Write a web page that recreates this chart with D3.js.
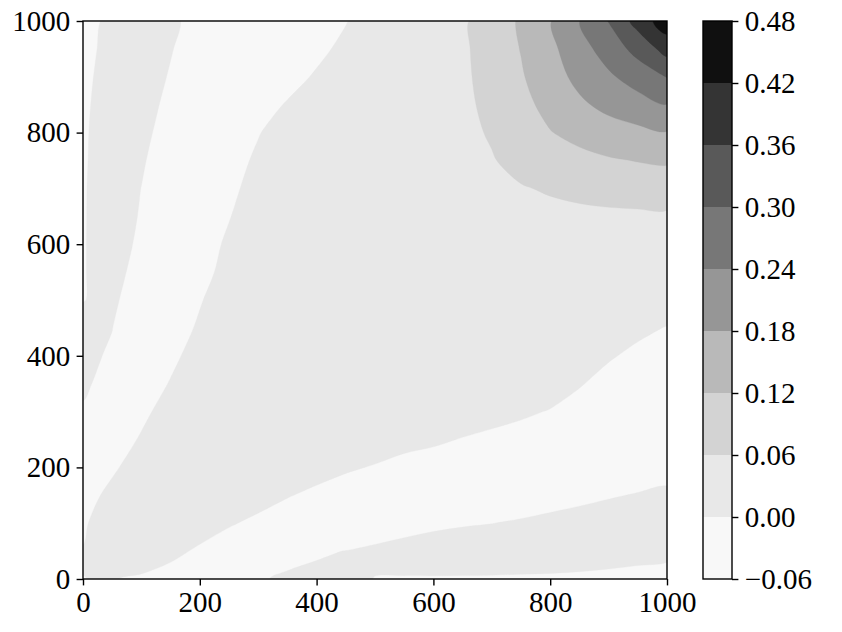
<!DOCTYPE html>
<html>
<head>
<meta charset="utf-8">
<script src="https://cdn.jsdelivr.net/npm/d3@7"></script>
<style>
  body { margin: 0; background: #fff; }
  svg text { font-family: "Liberation Serif", "Times New Roman", serif; font-size: 29px; fill: #000; }
</style>
</head>
<body>
<svg id="chart" width="842" height="632"></svg>
<script>
// Sample positions of the field (same spacing on both axes)
const xValues = [0, 50, 100, 150, 200, 250, 300, 350, 400, 450, 500, 550, 600, 650, 700, 750, 800, 850, 900, 950, 1000];
const yValues = [0, 50, 100, 150, 200, 250, 300, 350, 400, 450, 500, 550, 600, 650, 700, 750, 800, 850, 900, 950, 1000];

// Contour levels (also the colorbar ticks)
const levels = [-0.06, 0.0, 0.06, 0.12, 0.18, 0.24, 0.30, 0.36, 0.42, 0.48];

// Axis ticks
const xTicks = [0, 200, 400, 600, 800, 1000];
const yTicks = [0, 200, 400, 600, 800, 1000];

// Field values, one row per y value (y = 0 first)
const zValues = [
  [-0.0001, 0.0005, -0.0018, -0.0058, -0.0117, -0.0154, -0.0013, 0.002, 0.0029, 0.003, -0.0003, -0.0007, -0.00105, -0.0014, -0.0015, -0.0019, -0.0022, -0.0029, -0.0039, -0.0053, -0.0066],
  [0.0005, 0.0099, 0.0081, 0.0039, -0.0023, -0.008, -0.0106, -0.0047, -0.0015, 0.0002, 0.00255, 0.0051, 0.0077, 0.0095, 0.0095, 0.0091, 0.0088, 0.0081, 0.007, 0.0057, 0.0044],
  [-0.0018, 0.0081, 0.016, 0.0136, 0.0072, 0.0015, -0.0035, -0.0088, -0.0136, -0.011, -0.0081, -0.0055, -0.0033, -0.0015, -0.0002, 0.0018, 0.0042, 0.0066, 0.0093, 0.0119, 0.0143],
  [-0.0058, 0.0039, 0.0136, 0.018, 0.015, 0.011, 0.0062, 0.001, -0.0036, -0.008, -0.0116, -0.0156, -0.0143, -0.0125, -0.011, -0.0092, -0.0068, -0.0042, -0.0015, 0.0011, 0.0037],
  [-0.0117, -0.0023, 0.0072, 0.015, 0.020, 0.019, 0.0159, 0.0108, 0.0064, 0.0022, -0.0012, -0.0052, -0.0078, -0.0113, -0.0144, -0.0174, -0.0178, -0.0152, -0.0125, -0.0099, -0.0073],
  [-0.0154, -0.008, 0.0015, 0.011, 0.019, 0.024, 0.024, 0.0205, 0.0164, 0.0125, 0.009, 0.0052, 0.0028, -0.0008, -0.004, -0.0072, -0.0105, -0.0156, -0.0233, -0.0209, -0.018],
  [-0.0013, -0.0106, -0.0035, 0.0062, 0.0159, 0.024, 0.028, 0.027, 0.025, 0.0227, 0.0195, 0.0157, 0.0133, 0.0096, 0.0065, 0.0031, -0.001, -0.0071, -0.015, -0.022, -0.029],
  [0.002, -0.0047, -0.0088, 0.001, 0.0108, 0.0205, 0.027, 0.030, 0.031, 0.030, 0.028, 0.025, 0.0238, 0.020, 0.017, 0.0133, 0.0086, 0.0014, -0.0064, -0.0132, -0.020],
  [0.0029, -0.0015, -0.0136, -0.0036, 0.0064, 0.0164, 0.025, 0.031, 0.033, 0.034, 0.033, 0.032, 0.031, 0.028, 0.026, 0.0235, 0.018, 0.0098, 0.002, -0.0044, -0.0104],
  [0.003, 0.0002, -0.011, -0.008, 0.0022, 0.0125, 0.0227, 0.030, 0.034, 0.035, 0.035, 0.035, 0.035, 0.033, 0.032, 0.030, 0.025, 0.018, 0.0105, 0.0044, -0.0009],
  [-0.0003, 0.00255, -0.0081, -0.0116, -0.0012, 0.009, 0.0195, 0.028, 0.033, 0.035, 0.036, 0.037, 0.037, 0.036, 0.036, 0.034, 0.030, 0.025, 0.019, 0.0132, 0.009],
  [-0.0007, 0.0051, -0.0055, -0.0156, -0.0052, 0.0052, 0.0157, 0.025, 0.032, 0.035, 0.037, 0.039, 0.039, 0.038, 0.039, 0.037, 0.034, 0.030, 0.027, 0.022, 0.019],
  [-0.00105, 0.0077, -0.0033, -0.0143, -0.0078, 0.0028, 0.0133, 0.0238, 0.031, 0.035, 0.037, 0.039, 0.041, 0.040, 0.041, 0.040, 0.039, 0.036, 0.035, 0.031, 0.031],
  [-0.0014, 0.0095, -0.0015, -0.0125, -0.0113, -0.0008, 0.0096, 0.020, 0.028, 0.033, 0.036, 0.038, 0.040, 0.043, 0.044, 0.045, 0.047, 0.0475, 0.050, 0.051, 0.052],
  [-0.0015, 0.0095, -0.0002, -0.011, -0.0144, -0.004, 0.0065, 0.017, 0.026, 0.032, 0.036, 0.039, 0.041, 0.044, 0.050, 0.0567, 0.065, 0.0747, 0.081, 0.0857, 0.0885],
  [-0.0019, 0.0091, 0.0018, -0.0092, -0.0174, -0.0072, 0.0031, 0.0133, 0.0235, 0.030, 0.034, 0.037, 0.040, 0.045, 0.0567, 0.0764, 0.091, 0.105, 0.1146, 0.122, 0.127],
  [-0.0022, 0.0088, 0.0042, -0.0068, -0.0178, -0.0105, -0.001, 0.0086, 0.018, 0.025, 0.030, 0.034, 0.039, 0.047, 0.065, 0.091, 0.118, 0.136, 0.155, 0.166, 0.177],
  [-0.0029, 0.0081, 0.0066, -0.0042, -0.0152, -0.0156, -0.0071, 0.0014, 0.0098, 0.018, 0.025, 0.030, 0.036, 0.0475, 0.0747, 0.105, 0.136, 0.170, 0.196, 0.217, 0.239],
  [-0.0039, 0.007, 0.0093, -0.0015, -0.0125, -0.0233, -0.015, -0.0064, 0.002, 0.0105, 0.019, 0.027, 0.035, 0.050, 0.081, 0.1146, 0.155, 0.196, 0.231, 0.266, 0.302],
  [-0.0053, 0.0057, 0.0119, 0.0011, -0.0099, -0.0209, -0.022, -0.0132, -0.0044, 0.0044, 0.0132, 0.022, 0.031, 0.051, 0.0857, 0.122, 0.166, 0.217, 0.266, 0.320, 0.382],
  [-0.0066, 0.0044, 0.0143, 0.0037, -0.0073, -0.018, -0.029, -0.020, -0.0104, -0.0009, 0.009, 0.019, 0.031, 0.052, 0.0885, 0.127, 0.177, 0.239, 0.302, 0.382, 0.455]
];

// matplotlib "Greys" colormap stops
const GREYS = ["#ffffff", "#f0f0f0", "#d9d9d9", "#bdbdbd", "#969696", "#737373", "#525252", "#252525", "#000000"];

// Layout (pixels)
const PLOT = { left: 83, right: 667, top: 21, bottom: 579 };
const CBAR = { left: 703, right: 732 };
const TICK = 6.4;
const PAD = 6.4;
const LINE_W = 1.4;

const svg = d3.select("#chart");

const x = d3.scaleLinear().domain([xValues[0], xValues[xValues.length - 1]]).range([PLOT.left, PLOT.right]);
const y = d3.scaleLinear().domain([yValues[0], yValues[yValues.length - 1]]).range([PLOT.bottom, PLOT.top]);

// Colour of each filled band, taken at the band middle like contourf does
const greys = d3.scaleLinear().domain(d3.range(GREYS.length).map((i) => i / (GREYS.length - 1))).range(GREYS);
const norm = d3.scaleLinear().domain([levels[0], levels[levels.length - 1]]).range([0, 1]);
const bandColor = (k) => greys(norm((levels[k] + levels[k + 1]) / 2));

// Filled contours
const nx = xValues.length;
const ny = yValues.length;
// d3.contours puts sample i at grid coordinate i + 0.5
const gridX = d3.scaleLinear().domain([0.5, nx - 0.5]).range([xValues[0], xValues[nx - 1]]);
const gridY = d3.scaleLinear().domain([0.5, ny - 0.5]).range([yValues[0], yValues[ny - 1]]);

const contours = d3.contours()
  .size([nx, ny])
  .thresholds(levels.slice(0, -1))(zValues.flat());

// Smooth the marching-squares rings a bit so the bands look like the original
const ringLine = d3.line().curve(d3.curveCatmullRomClosed.alpha(0.5));
const contourPath = (mp) =>
  mp.coordinates
    .map((polygon) =>
      polygon
        .map((ring) => ringLine(ring.slice(0, -1).map(([gx, gy]) => [x(gridX(gx)), y(gridY(gy))])))
        .join("")
    )
    .join("");

svg.append("clipPath")
  .attr("id", "plot-clip")
  .append("rect")
  .attr("x", PLOT.left)
  .attr("y", PLOT.top)
  .attr("width", PLOT.right - PLOT.left)
  .attr("height", PLOT.bottom - PLOT.top);

svg.append("g")
  .attr("clip-path", "url(#plot-clip)")
  .selectAll("path")
  .data(contours)
  .enter()
  .append("path")
  .attr("d", contourPath)
  .attr("fill", (d, i) => bandColor(i))
  .attr("stroke", (d, i) => bandColor(i))
  .attr("stroke-width", 0.3);

// Axes
const xAxis = d3.axisBottom(x).tickValues(xTicks).tickSize(TICK).tickPadding(PAD).tickSizeOuter(0).tickFormat(d3.format("d"));
const yAxis = d3.axisLeft(y).tickValues(yTicks).tickSize(TICK).tickPadding(PAD).tickSizeOuter(0).tickFormat(d3.format("d"));

const gx = svg.append("g").attr("transform", `translate(0,${PLOT.bottom})`).call(xAxis);
const gy = svg.append("g").attr("transform", `translate(${PLOT.left},0)`).call(yAxis);

[gx, gy].forEach((g) => {
  g.select(".domain").remove();
  g.selectAll(".tick line").attr("stroke", "#000").attr("stroke-width", LINE_W);
  g.attr("font-size", null).attr("font-family", null);
});

svg.append("rect")
  .attr("x", PLOT.left)
  .attr("y", PLOT.top)
  .attr("width", PLOT.right - PLOT.left)
  .attr("height", PLOT.bottom - PLOT.top)
  .attr("fill", "none")
  .attr("stroke", "#000")
  .attr("stroke-width", LINE_W);

// Colorbar
const c = d3.scaleLinear().domain([levels[0], levels[levels.length - 1]]).range([PLOT.bottom, PLOT.top]);

svg.append("g")
  .selectAll("rect")
  .data(levels.slice(0, -1))
  .enter()
  .append("rect")
  .attr("x", CBAR.left)
  .attr("width", CBAR.right - CBAR.left)
  .attr("y", (d, i) => c(levels[i + 1]))
  .attr("height", (d, i) => c(levels[i]) - c(levels[i + 1]))
  .attr("fill", (d, i) => bandColor(i));

const cAxis = d3.axisRight(c).tickValues(levels).tickSize(TICK).tickPadding(PAD).tickSizeOuter(0).tickFormat(d3.format(".2f"));
const gc = svg.append("g").attr("transform", `translate(${CBAR.right},0)`).call(cAxis);
gc.select(".domain").remove();
gc.selectAll(".tick line").attr("stroke", "#000").attr("stroke-width", LINE_W);
gc.attr("font-size", null).attr("font-family", null);

svg.append("rect")
  .attr("x", CBAR.left)
  .attr("y", PLOT.top)
  .attr("width", CBAR.right - CBAR.left)
  .attr("height", PLOT.bottom - PLOT.top)
  .attr("fill", "none")
  .attr("stroke", "#000")
  .attr("stroke-width", LINE_W);
</script>
</body>
</html>
